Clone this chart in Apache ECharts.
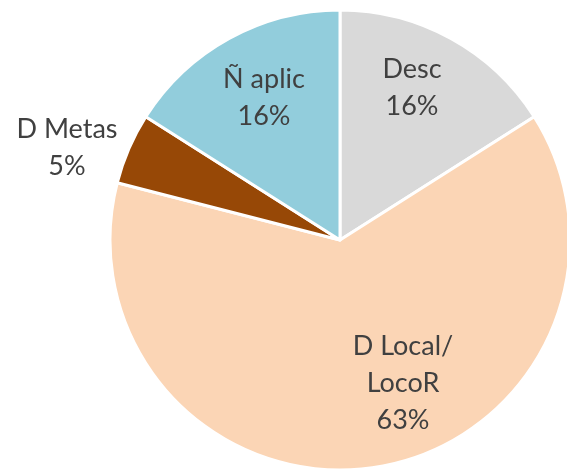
<!DOCTYPE html>
<html>
<head>
<meta charset="UTF-8">
<title>Pie</title>
<script src="https://cdn.jsdelivr.net/npm/echarts@6/dist/echarts.min.js"></script>
<style>
    html, body { margin: 0; padding: 0; background: #fff; }
    #chart { width: 567px; height: 469px; }
</style>
</head>
<body>
<div id="chart"></div>
<script>
    const categories = ['Desc', 'D Local/\nLocoR', 'D Metas', 'Ñ aplic'];
    const values = [16, 63, 5, 16];
    const colors = ['#d9d9d9', '#fbd5b5', '#974806', '#92cddc'];
    // label centres, as placed in the original
    const labelPos = [[412, 88], [403, 383], [67, 148], [264, 98]];

    const chart = echarts.init(document.getElementById('chart'));
    chart.setOption({
        animation: false,
        series: [{
            type: 'pie',
            center: [340, 240],
            radius: 230,
            startAngle: 90,
            clockwise: true,
            data: categories.map((name, i) => ({
                name: name,
                value: values[i],
                itemStyle: { color: colors[i] }
            })),
            itemStyle: { borderColor: '#fff', borderWidth: 3 },
            label: {
                position: 'inside',
                formatter: '{b}\n{d}%',
                fontFamily: 'Lato',
                fontSize: 27,
                lineHeight: 37,
                color: '#404040',
                align: 'center'
            },
            labelLine: { show: false },
            labelLayout: function (p) {
                const pos = labelPos[p.dataIndex];
                return { x: pos[0], y: pos[1], align: 'center', verticalAlign: 'middle' };
            }
        }]
    });
</script>
</body>
</html>
